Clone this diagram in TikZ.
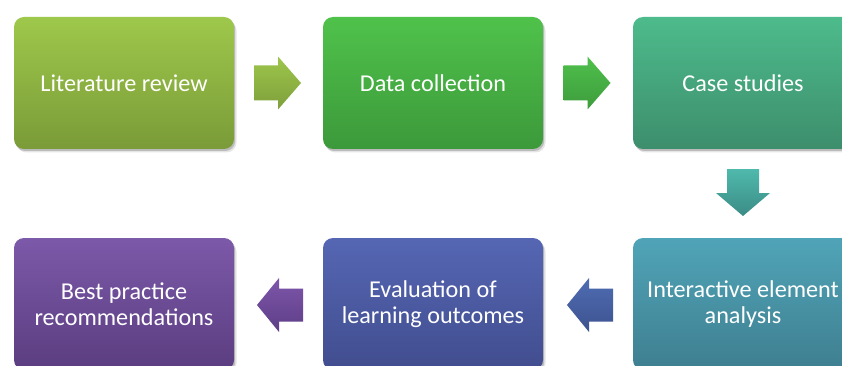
\documentclass[tikz,border=0pt]{standalone}
\usepackage{fontspec}
\setmainfont{Carlito}
\usetikzlibrary{calc,shadows}
\tikzset{
  softshadow/.style={
    drop shadow={shadow xshift=2.5pt,shadow yshift=-3.5pt,opacity=.10,fill=black},
    drop shadow={shadow xshift=1.2pt,shadow yshift=-2pt,opacity=.18,fill=black}},
  stepbox/.style={softshadow, rounded corners=10pt, minimum width=220pt, minimum height=132pt,
    inner sep=0pt, align=center, text=white, font=\fontsize{24.2}{26.5}\selectfont},
  rightarr/.pic={\path[pic actions] (-23.5,-17.5) -- (0.5,-17.5) -- (0.5,-26.5) -- (23.5,0)
      -- (0.5,26.5) -- (0.5,17.5) -- (-23.5,17.5) -- cycle;},
  leftarr/.pic={\path[pic actions] (23,-16.5) -- (-1,-16.5) -- (-1,-27) -- (-23,0)
      -- (-1,27) -- (-1,16.5) -- (23,16.5) -- cycle;},
  downarr/.pic={\path[pic actions] (-16,-23.5) -- (16,-23.5) -- (16,0.5) -- (27,0.5)
      -- (0,23.5) -- (-27,0.5) -- (-16,0.5) -- cycle;},
}
\definecolor{c1t}{HTML}{9EC84B}\definecolor{c1b}{HTML}{7A9B38}
\definecolor{c2t}{HTML}{4FC24B}\definecolor{c2b}{HTML}{3C993A}
\definecolor{c3t}{HTML}{4DBB8C}\definecolor{c3b}{HTML}{3D8E6C}
\definecolor{c4t}{HTML}{50A4B7}\definecolor{c4b}{HTML}{3E7F90}
\definecolor{c5t}{HTML}{5566B3}\definecolor{c5b}{HTML}{414D8E}
\definecolor{c6t}{HTML}{7C59A9}\definecolor{c6b}{HTML}{5B3D80}
\definecolor{a1t}{HTML}{9EC64C}\definecolor{a1b}{HTML}{7E9F3B}
\definecolor{a2t}{HTML}{4FC04C}\definecolor{a2b}{HTML}{3D9C3C}
\definecolor{a3t}{HTML}{4FB9AC}\definecolor{a3b}{HTML}{3B8C86}
\definecolor{a4t}{HTML}{4E6DB2}\definecolor{a4b}{HTML}{3E5290}
\definecolor{a5t}{HTML}{7D56AA}\definecolor{a5b}{HTML}{5E3E87}
\begin{document}
\begin{tikzpicture}[x=1pt,y=-1pt]
\useasboundingbox (0,0) rectangle (842,366);
\clip (0,0) rectangle (842,366);
\fill[white] (0,0) rectangle (842,366);
\node[stepbox, top color=c1t, bottom color=c1b] (lit) at (124,83) {Literature review};
\node[stepbox, top color=c2t, bottom color=c2b] (data) at (433,83) {Data collection};
\node[stepbox, top color=c3t, bottom color=c3b] (case) at (743,83) {Case studies};
\node[stepbox, top color=c4t, bottom color=c4b] (inter) at (743,304) {Interactive element\\analysis};
\node[stepbox, top color=c5t, bottom color=c5b] (eval) at (433,304) {Evaluation of\\learning outcomes};
\node[stepbox, top color=c6t, bottom color=c6b] (best) at (124,304) {Best practice\\recommendations};
\coordinate (m1) at ($(lit.east)!0.5!(data.west)$);
\coordinate (m2) at ($(data.east)!0.5!(case.west)$);
\coordinate (m3) at ($(case.south)!0.5!(inter.north)$);
\coordinate (m4) at ($(inter.west)!0.5!(eval.east)$);
\coordinate (m5) at ($(eval.west)!0.5!(best.east)$);
\pic[softshadow, top color=a1t, bottom color=a1b] at ($(m1)+(-1,0)$) {rightarr};
\pic[softshadow, top color=a2t, bottom color=a2b] at ($(m2)+(-1,0)$) {rightarr};
\pic[softshadow, top color=a3t, bottom color=a3b] at ($(m3)+(0,-1)$) {downarr};
\pic[softshadow, top color=a4t, bottom color=a4b] at ($(m4)+(2,1)$) {leftarr};
\pic[softshadow, top color=a5t, bottom color=a5b] at ($(m5)+(1.5,1)$) {leftarr};
\end{tikzpicture}
\end{document}
